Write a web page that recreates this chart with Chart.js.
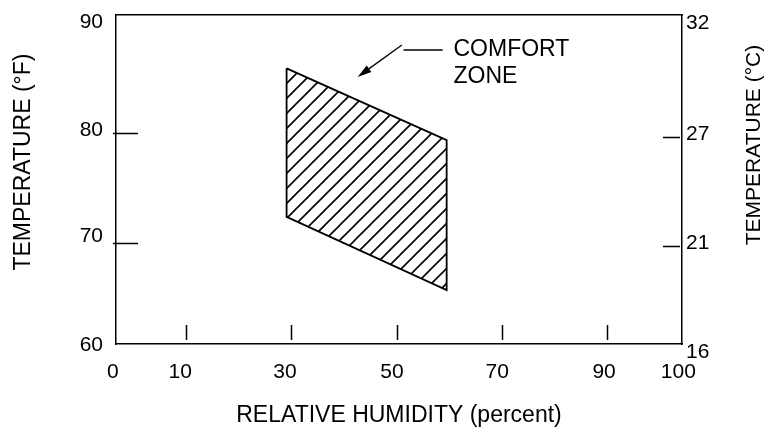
<!DOCTYPE html>
<html>
<head>
<meta charset="utf-8">
<style>
  html, body { margin: 0; padding: 0; background: #ffffff; }
  canvas { display: block; }
</style>
<script src="https://cdn.jsdelivr.net/npm/chart.js@4.4.1/dist/chart.umd.min.js"></script>
</head>
<body>
<canvas id="chart" width="766" height="429"></canvas>
<script>
// ---------------- data ----------------
const humidityRange = [-3.3, 104.2];            // relative humidity axis extent (percent)
const tempRangeF = [60.82, 90.73];              // temperature axis extent (°F)
const xTickValues = [-3.9, 8.9, 28.8, 49.1, 69.1, 89.4, 103.5];
const xTickLabels = ['0', '10', '30', '50', '70', '90', '100'];
const xMarkValues = [10, 30, 50, 70, 90];
const yTickValues = [90.1, 80.3, 70.6, 60.7];
const yTickLabels = ['90', '80', '70', '60'];
const yMarkValues = [80, 70];
const y2TickValues = [90.0, 79.9, 69.95, 60.1];
const y2TickLabels = ['32', '27', '21', '16'];
const y2MarkValues = [79.64, 69.73];
const comfortHumidity = [29.1, 59.5, 59.5, 29.1, 29.1];
const comfortTempF = [85.88, 79.36, 65.73, 72.38, 85.88];
const arrowTail = { x: 51.0, y: 88.0 };
const arrowTip = { x: 42.6, y: 85.1 };
const leaderLine = [{ x: 51.3, y: 87.55 }, { x: 58.75, y: 87.55 }];
const noteLines = ['COMFORT', 'ZONE'];
const noteAnchors = [{ x: 60.8, y: 87.6 }, { x: 60.8, y: 85.1 }];
const xTitle = 'RELATIVE HUMIDITY (percent)';
const yTitle = 'TEMPERATURE (°F)';
const y2Title = 'TEMPERATURE (°C)';

// ---------------- styling ----------------
const FONT = "'Liberation Sans', Arial, Helvetica, sans-serif";
Chart.defaults.font.family = FONT;
Chart.defaults.color = '#000';

function makeHatch() {
  const s = 15;
  const c = document.createElement('canvas');
  c.width = s; c.height = s;
  const g = c.getContext('2d');
  g.strokeStyle = '#000';
  g.lineWidth = 1.6;
  g.beginPath();
  [0, s, 2 * s].forEach(k => { g.moveTo(k + 2, -2); g.lineTo(-2, k + 2); });
  g.stroke();
  const ctx = document.getElementById('chart').getContext('2d');
  const p = ctx.createPattern(c, 'repeat');
  if (p.setTransform) p.setTransform(new DOMMatrix().translate(10, 0));
  return p;
}

const comfortPoints = comfortHumidity.map((h, i) => ({ x: h, y: comfortTempF[i] }));

const decor = {
  id: 'decor',
  afterDatasetsDraw(chart) {
    const { ctx, chartArea: a, scales } = chart;
    const x = scales.x, y = scales.y, y2 = scales.y2;
    ctx.save();
    ctx.strokeStyle = '#000';
    ctx.fillStyle = '#000';
    ctx.lineWidth = 1.5;
    ctx.beginPath();
    xMarkValues.forEach(v => {
      const px = Math.round(x.getPixelForValue(v)) + 0.5;
      ctx.moveTo(px, a.bottom - 19); ctx.lineTo(px, a.bottom - 4);
    });
    yMarkValues.forEach(v => {
      const py = Math.round(y.getPixelForValue(v)) + 0.5;
      ctx.moveTo(a.left - 3, py); ctx.lineTo(a.left + 22, py);
    });
    y2MarkValues.forEach(v => {
      const py = Math.round(y2.getPixelForValue(v)) + 0.5;
      ctx.moveTo(a.right - 19, py); ctx.lineTo(a.right - 2, py);
    });
    ctx.stroke();

    // leader line
    ctx.lineWidth = 1.3;
    ctx.beginPath();
    ctx.moveTo(x.getPixelForValue(leaderLine[0].x), y.getPixelForValue(leaderLine[0].y));
    ctx.lineTo(x.getPixelForValue(leaderLine[1].x), y.getPixelForValue(leaderLine[1].y));
    ctx.stroke();

    // arrow
    const tx = x.getPixelForValue(arrowTail.x), ty = y.getPixelForValue(arrowTail.y);
    const hx = x.getPixelForValue(arrowTip.x), hy = y.getPixelForValue(arrowTip.y);
    const ang = Math.atan2(hy - ty, hx - tx);
    const cs = Math.cos(ang), sn = Math.sin(ang);
    const hl = 14, hw = 4;
    ctx.beginPath();
    ctx.moveTo(tx, ty);
    ctx.lineTo(hx - hl * 0.8 * cs, hy - hl * 0.8 * sn);
    ctx.stroke();
    ctx.beginPath();
    ctx.moveTo(hx, hy);
    ctx.lineTo(hx - hl * cs + hw * sn, hy - hl * sn - hw * cs);
    ctx.lineTo(hx - hl * cs - hw * sn, hy - hl * sn + hw * cs);
    ctx.closePath();
    ctx.fill();

    // note text
    ctx.font = '23px ' + FONT;
    ctx.textAlign = 'left';
    ctx.textBaseline = 'middle';
    noteLines.forEach((t, i) => {
      ctx.fillText(t, x.getPixelForValue(noteAnchors[i].x), y.getPixelForValue(noteAnchors[i].y));
    });

    // vertical axis titles
    ctx.textAlign = 'center';
    ctx.save();
    ctx.translate(24, a.top + 147);
    ctx.rotate(-Math.PI / 2);
    ctx.font = '23px ' + FONT;
    ctx.fillText(yTitle, 0, 0);
    ctx.restore();
    ctx.save();
    ctx.translate(754, a.top + 130);
    ctx.rotate(-Math.PI / 2);
    ctx.font = '21px ' + FONT;
    ctx.fillText(y2Title, 0, 0);
    ctx.restore();
    ctx.restore();
  }
};

const borderStyle = { display: true, color: '#000', width: 1.5 };
const noGrid = { display: false, drawTicks: false };
const noPadV = s => { s.paddingTop = 0; s.paddingBottom = 0; };
const noPadH = s => { s.paddingLeft = 0; s.paddingRight = 0; };

new Chart(document.getElementById('chart'), {
  type: 'scatter',
  data: {
    datasets: [{
      label: 'Comfort zone',
      data: comfortPoints,
      showLine: true,
      fill: 'shape',
      backgroundColor: makeHatch(),
      borderColor: '#000',
      borderWidth: 1.8,
      pointRadius: 0,
      tension: 0
    }]
  },
  options: {
    responsive: false,
    animation: false,
    devicePixelRatio: 1,
    layout: { padding: { top: 15, left: 0, right: 0, bottom: 0 } },
    plugins: { legend: { display: false }, tooltip: { enabled: false } },
    scales: {
      x: {
        type: 'linear', position: 'bottom',
        min: humidityRange[0], max: humidityRange[1],
        grid: noGrid, border: borderStyle,
        afterBuildTicks: s => { s.ticks = xTickValues.map(v => ({ value: v })); },
        afterFit: s => { s.height = 85; noPadH(s); },
        ticks: {
          autoSkip: false, maxRotation: 0, padding: 16,
          font: { size: 21 }, color: '#000',
          callback: (v, i) => xTickLabels[i]
        },
        title: { display: true, text: xTitle, color: '#000', font: { size: 23 }, padding: { top: 0, bottom: 0 } }
      },
      x2: {
        type: 'linear', position: 'top',
        min: humidityRange[0], max: humidityRange[1],
        grid: noGrid, border: borderStyle,
        ticks: { display: false },
        afterFit: s => { s.height = 0; noPadH(s); }
      },
      y: {
        type: 'linear', position: 'left',
        min: tempRangeF[0], max: tempRangeF[1],
        grid: noGrid, border: borderStyle,
        afterBuildTicks: s => { s.ticks = yTickValues.map(v => ({ value: v })); },
        afterFit: s => { s.width = 116; noPadV(s); },
        ticks: {
          autoSkip: false, padding: 13,
          font: { size: 21 }, color: '#000',
          callback: (v, i) => yTickLabels[i]
        }
      },
      y2: {
        type: 'linear', position: 'right',
        min: tempRangeF[0], max: tempRangeF[1],
        grid: noGrid, border: borderStyle,
        afterBuildTicks: s => { s.ticks = y2TickValues.map(v => ({ value: v })); },
        afterFit: s => { s.width = 84; noPadV(s); },
        ticks: {
          autoSkip: false, padding: 4,
          font: { size: 21 }, color: '#000',
          callback: (v, i) => y2TickLabels[i]
        }
      }
    }
  },
  plugins: [decor]
});
</script>
</body>
</html>
